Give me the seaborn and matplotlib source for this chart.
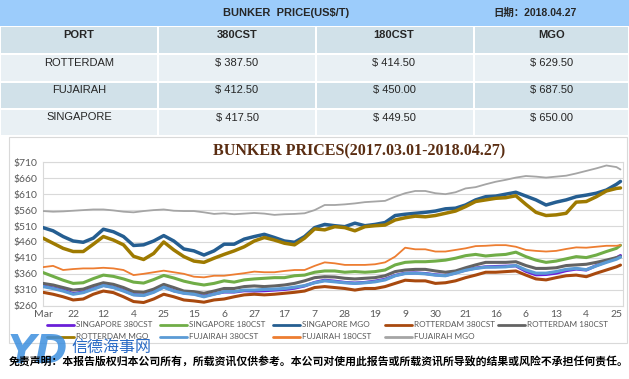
import matplotlib
matplotlib.use("Agg")
import matplotlib.pyplot as plt
from matplotlib.lines import Line2D
from matplotlib.patches import Rectangle
import pandas as pd
import seaborn as sns


FIG_W, FIG_H = 629, 379

# table at the top
REPORT_DATE = "2018.04.27"
PORTS = ["ROTTERDAM", "FUJAIRAH", "SINGAPORE"]
GRADES = ["380CST", "180CST", "MGO"]
PRICE_380 = [387.50, 412.50, 417.50]
PRICE_180 = [414.50, 450.00, 449.50]
PRICE_MGO = [629.50, 687.50, 650.00]

# chart: trading-day index, one reading every 5 days plus the last day
DAY_IDX = list(range(0, 286, 5)) + [287]
TICK_STEP = 15
TICK_LABELS = ["Mar", "22", "12", "4", "25", "15", "6", "27", "17", "7",
               "28", "19", "9", "30", "21", "16", "6", "13", "4", "25"]

SG_380 = [322, 316, 309, 298, 303, 314, 324, 318, 308, 295, 293, 304, 319, 307, 300,
          297, 290, 297, 303, 303, 307, 306, 307, 309, 311, 315, 322, 333, 340,
          337, 333, 331, 333, 337, 343, 355, 362, 363, 361, 357, 355, 363, 372, 378,
          382, 383, 384, 385, 368, 357, 358, 362, 370, 375, 372, 386, 398, 410, 417.5]
SG_180 = [364, 352, 340, 330, 332, 345, 356, 352, 344, 334, 331, 342, 355, 347, 337,
          330, 325, 330, 338, 334, 341, 344, 346, 348, 348, 354, 356, 365, 369,
          369, 365, 367, 365, 367, 372, 388, 396, 398, 398, 400, 403, 409, 417, 421,
          416, 419, 421, 428, 414, 403, 396, 400, 407, 414, 411, 419, 430, 440, 449.5]
SG_MGO = [505, 495, 477, 463, 459, 472, 500, 492, 477, 449, 451, 463, 480, 463, 438,
          432, 419, 432, 453, 453, 469, 477, 484, 474, 463, 459, 477, 505, 515,
          511, 508, 519, 511, 515, 521, 543, 547, 550, 553, 557, 564, 566, 576, 592,
          602, 604, 610, 616, 604, 592, 576, 585, 592, 602, 607, 613, 623, 641, 650]
ROT_380 = [302, 296, 288, 278, 281, 296, 306, 301, 288, 273, 270, 281, 296, 288, 278,
           275, 271, 278, 281, 288, 294, 296, 294, 296, 299, 302, 306, 317, 320,
           317, 314, 309, 314, 314, 320, 330, 340, 338, 338, 330, 332, 338, 348, 356,
           365, 365, 367, 369, 356, 344, 341, 348, 354, 356, 351, 362, 372, 382, 387.5]
ROT_180 = [330, 325, 317, 309, 312, 323, 332, 327, 317, 304, 302, 312, 327, 317, 306,
           304, 299, 306, 314, 314, 320, 322, 320, 322, 325, 330, 338, 348, 351,
           350, 346, 344, 346, 348, 354, 367, 372, 374, 374, 369, 365, 369, 379, 388,
           396, 396, 396, 398, 386, 377, 377, 379, 386, 388, 390, 396, 403, 411, 414.5]
ROT_MGO = [472, 456, 440, 430, 430, 453, 477, 466, 451, 415, 405, 424, 460, 435, 414,
           400, 396, 409, 421, 432, 445, 463, 474, 466, 456, 451, 472, 501, 498,
           508, 505, 495, 508, 511, 513, 529, 536, 541, 539, 543, 550, 557, 571, 587,
           592, 597, 599, 605, 578, 553, 543, 545, 550, 585, 587, 602, 620, 628, 629.5]
FUJ_380 = [320, 314, 306, 296, 301, 312, 323, 317, 306, 294, 292, 302, 318, 306, 299,
           296, 288, 296, 304, 304, 309, 309, 311, 312, 314, 318, 323, 332, 338,
           335, 332, 330, 332, 335, 341, 354, 361, 362, 360, 356, 354, 362, 371, 377,
           381, 381, 382, 386, 372, 362, 362, 367, 374, 377, 373, 385, 396, 406, 412.5]
FUJ_180 = [381, 385, 372, 375, 377, 377, 379, 377, 372, 356, 360, 365, 370, 365, 360,
           351, 349, 354, 354, 358, 362, 367, 365, 365, 369, 372, 372, 385, 396,
           393, 388, 388, 388, 390, 396, 414, 442, 437, 437, 430, 430, 435, 440, 447,
           448, 450, 450, 445, 435, 432, 430, 432, 438, 443, 442, 445, 448, 448, 450]
FUJ_MGO = [557, 555, 556, 558, 560, 562, 562, 559, 555, 553, 557, 560, 562, 558, 557,
           557, 553, 548, 550, 547, 549, 551, 549, 545, 547, 548, 550, 560, 576,
           576, 578, 581, 585, 587, 589, 602, 613, 620, 620, 613, 610, 616, 628, 632,
           641, 649, 655, 662, 667, 665, 662, 665, 668, 675, 683, 691, 700, 695, 687.5]

SERIES = {
    "SINGAPORE 380CST": SG_380,
    "SINGAPORE 180CST": SG_180,
    "SINGAPORE MGO": SG_MGO,
    "ROTTERDAM 380CST": ROT_380,
    "ROTTERDAM 180CST": ROT_180,
    "ROTTERDAM MGO": ROT_MGO,
    "FUJAIRAH 380CST": FUJ_380,
    "FUJAIRAH 180CST": FUJ_180,
    "FUJAIRAH MGO": FUJ_MGO,
}

LINE_STYLE = {
    "SINGAPORE 380CST": ("#6A1FD8", 2.2),
    "SINGAPORE 180CST": ("#70AD47", 2.2),
    "SINGAPORE MGO": ("#255E91", 2.5),
    "ROTTERDAM 380CST": ("#A8490E", 2.2),
    "ROTTERDAM 180CST": ("#636363", 2.2),
    "ROTTERDAM MGO": ("#9E7A00", 2.5),
    "FUJAIRAH 380CST": ("#5B9BD5", 2.3),
    "FUJAIRAH 180CST": ("#ED7D31", 1.3),
    "FUJAIRAH MGO": ("#A5A5A5", 1.3),
}

HEADER_BLUE = "#9CCCFB"
ROW_DARK = "#D1E1E9"
ROW_LIGHT = "#E9F0F4"
GRID_GRAY = "#D9D9D9"
TEXT_GRAY = "#595959"


def px_box(x, y, w, h):
    # figure fraction box from pixel coords (y measured from the top)
    return [x / FIG_W, 1 - (y + h) / FIG_H, w / FIG_W, h / FIG_H]


def build_frame() -> pd.DataFrame:
    parts = []
    for name, values in SERIES.items():
        parts.append(pd.DataFrame({"day": DAY_IDX, "price": values, "series": name}))
    return pd.concat(parts, ignore_index=True)


def draw_table(bg) -> None:
    bg.add_patch(Rectangle((0, 0), FIG_W, 26, color=HEADER_BLUE, lw=0))
    bg.text(286, 12.5, "BUNKER  PRICE(US$/T)", ha="center", va="center",
            fontsize=8, weight="bold", family=["Liberation Sans", "DejaVu Sans"])
    bg.text(535, 12.5, "日期：" + REPORT_DATE, ha="center", va="center",
            fontsize=7.5, weight="bold", family=["Liberation Sans", "Noto Sans CJK SC"])

    col_edges = [0, 158, 316, 474, FIG_W]
    rows = [(27, 26, ROW_DARK), (54.5, 26.5, ROW_LIGHT), (82.5, 25.5, ROW_DARK), (109.5, 25.5, ROW_LIGHT)]
    for top, height, colour in rows:
        for left, right in zip(col_edges[:-1], col_edges[1:]):
            bg.add_patch(Rectangle((left + 0.8, top), right - left - 1.6, height, color=colour, lw=0))

    centers = [79, 237, 394, 552]
    header = ["PORT"] + GRADES
    for cx, label in zip(centers, header):
        bg.text(cx, 35.5, label, ha="center", va="center", fontsize=8, weight="bold",
                family="Liberation Sans")

    text_y = [63, 90, 117.5]
    for k, port in enumerate(PORTS):
        row_vals = [PRICE_380[k], PRICE_180[k], PRICE_MGO[k]]
        bg.text(centers[0], text_y[k], port, ha="center", va="center", fontsize=8,
                family="Liberation Sans")
        for cx, val in zip(centers[1:], row_vals):
            bg.text(cx, text_y[k], f"$ {val:.2f}", ha="center", va="center", fontsize=8,
                    family="Liberation Sans")


def draw_footer(bg) -> None:
    bg.text(38, 352, "YD", ha="center", va="center", fontsize=28, weight="bold",
            style="italic", color="#3D8FDE", alpha=0.85, family="DejaVu Sans")
    bg.text(111, 348.5, "信德海事网", ha="center", va="center", fontsize=11.5,
            color="#2A6BC6", family=["Noto Sans CJK SC"])
    bg.text(318.5, 361.5,
            "免责声明：本报告版权归本公司所有，所载资讯仅供参考。本公司对使用此报告或所载资讯所导致的结果或风险不承担任何责任。",
            ha="center", va="center", fontsize=7.8, weight="bold", color="black",
            family=["Noto Sans CJK SC"])


def draw_legend(bg) -> None:
    # Excel-style legend: evenly spaced entries, five per row
    for k, name in enumerate(SERIES):
        row, col = divmod(k, 5)
        x0 = 47 + 112.8 * col
        y0 = 324.5 + 12 * row
        bg.add_line(Line2D([x0, x0 + 27], [y0, y0], color=LINE_STYLE[name][0], lw=2.0))
        bg.text(x0 + 29, y0, name, ha="left", va="center", fontsize=5.9,
                color=TEXT_GRAY, family="Lato")


def draw_chart(fig, bg, df: pd.DataFrame) -> None:
    bg.add_patch(Rectangle((9, 137), 618, 206, facecolor="white", edgecolor=GRID_GRAY, lw=0.8))
    bg.text(359.5, 151, "BUNKER PRICES(2017.03.01-2018.04.27)", ha="center", va="center",
            fontsize=11.5, weight="bold", color="#5A2D12", family="Liberation Serif")

    ax = fig.add_axes(px_box(43, 162.3, 579.5, 143.4), zorder=2)
    for k, name in enumerate(SERIES):
        colour, width = LINE_STYLE[name]
        sns.lineplot(data=df[df["series"] == name], x="day", y="price", ax=ax,
                     color=colour, linewidth=width, legend=False, zorder=3 + k)

    ax.set_xlim(0, 288)
    ax.set_ylim(260, 710)
    yticks = list(range(260, 711, 50))
    ax.set_yticks(yticks)
    ax.set_yticklabels([f"${v}" for v in yticks])
    ax.set_xticks(list(range(0, 286, TICK_STEP)))
    ax.set_xticklabels(TICK_LABELS)
    ax.set_xlabel("")
    ax.set_ylabel("")
    ax.grid(axis="y", color=GRID_GRAY, linewidth=0.8)
    ax.grid(axis="x", visible=False)
    ax.set_axisbelow(True)
    for spine in ax.spines.values():
        spine.set_visible(True)
        spine.set_color(GRID_GRAY)
        spine.set_linewidth(0.8)
    ax.tick_params(axis="both", length=0, labelsize=7.5, labelcolor=TEXT_GRAY)
    ax.tick_params(axis="y", pad=4)
    ax.tick_params(axis="x", pad=3)

    draw_legend(bg)


def main() -> None:
    sns.set_style("white")
    plt.rcParams["font.family"] = ["Lato", "DejaVu Sans"]

    fig = plt.figure(figsize=(FIG_W / 100, FIG_H / 100), dpi=100)
    fig.patch.set_facecolor("white")
    bg = fig.add_axes([0, 0, 1, 1], zorder=0)
    bg.set_xlim(0, FIG_W)
    bg.set_ylim(FIG_H, 0)
    bg.axis("off")

    draw_table(bg)
    draw_chart(fig, bg, build_frame())
    draw_footer(bg)

    fig.savefig("out.png", dpi=100)
    plt.close(fig)


if __name__ == "__main__":
    main()
